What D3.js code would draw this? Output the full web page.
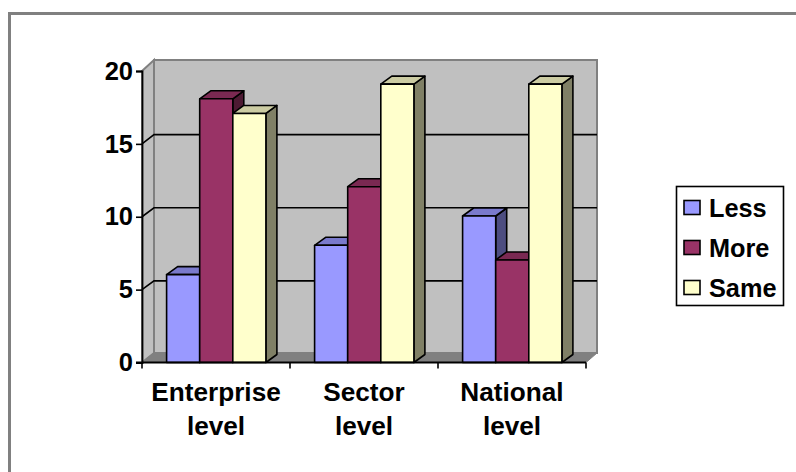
<!DOCTYPE html>
<html><head><meta charset="utf-8">
<script src="https://cdn.jsdelivr.net/npm/d3@7/dist/d3.min.js"></script>
<style>html,body{margin:0;padding:0;background:#fff}svg{display:block}text{font-family:"Liberation Sans",Arial,sans-serif;font-weight:bold;fill:#000}</style>
</head><body><svg id="c" width="796" height="472"></svg>
<script>
const categories=[["Enterprise","level"],["Sector","level"],["National","level"]];
const seriesNames=["Less","More","Same"];
const less=[6,8,10];
const more=[18,12,7];
const same=[17,19,19];
const yTicks=[0,5,10,15,20];
const colors=["#9999ff","#993366","#ffffcc"];
const tops=["#7a7acc","#7a2952","#cccca3"];
const sides=["#4d4d80","#4d1a33","#808066"];

const svg=d3.select("#c");
svg.append("path").attr("d","M9.5 472V13.5H796").attr("fill","none").attr("stroke","#808080").attr("stroke-width",3);
const dx=11,dy=8;
const wallDx=12;
const x0=142,x1=586;
const y=d3.scaleLinear().domain([0,20]).range([362.5,69.5]);
const axisY=d3.scaleLinear().domain([0,20]).range([362.5,71]);
const wallY=d3.scaleLinear().domain([0,20]).range([353,60]);
const gridY=d3.scaleLinear().domain([0,20]).range([354,61.5]);
const x=d3.scaleBand().domain(d3.range(3)).range([x0,x1]);
const bw=33.1;
const bx=d3.scaleBand().domain(d3.range(3)).range([24.6,24.6+3*bw]);
const base=y(0);
// walls
svg.append("path").attr("d",`M${x0} ${axisY(20)}L${x0+wallDx} ${wallY(20)}V${wallY(0)}L${x0} ${base}Z`).attr("fill","#c0c0c0").attr("stroke","#808080").attr("stroke-width",2);
svg.append("rect").attr("x",x0+wallDx).attr("y",wallY(20)).attr("width",x1-x0-1).attr("height",wallY(0)-wallY(20)).attr("fill","#c0c0c0").attr("stroke","#808080").attr("stroke-width",2);
svg.append("path").attr("d",`M${x0} ${base}L${x0+wallDx} ${wallY(0)}H${x1+wallDx-1}L${x1} ${base}Z`).attr("fill","#808080").attr("stroke","#808080");
// gridlines
yTicks.slice(1,4).forEach(t=>{
  svg.append("path").attr("d",`M${x0} ${axisY(t)}L${x0+wallDx} ${gridY(t)}H${x1+wallDx-1}`).attr("fill","none").attr("stroke","#000").attr("stroke-width",1.6);
});
// bars
const all=[less,more,same];
categories.forEach((c,i)=>{
  all.forEach((s,k)=>{
    const l=x(i)+bx(k),w=bw,h=y(s[i]);
    const g=svg.append("g").attr("stroke","#000").attr("stroke-width",1.6).attr("stroke-linejoin","round");
    g.append("path").attr("d",`M${l+w} ${h}l${dx} ${-dy}V${base-dy}L${l+w} ${base}Z`).attr("fill",sides[k]);
    g.append("path").attr("d",`M${l} ${h}l${dx} ${-dy}H${l+w+dx}L${l+w} ${h}Z`).attr("fill",tops[k]);
    g.append("rect").attr("x",l).attr("y",h).attr("width",w).attr("height",base-h).attr("fill",colors[k]);
  });
});
// axes
const yAxis=d3.axisLeft(axisY).tickValues(yTicks).tickSize(6).tickPadding(3);
const ga=svg.append("g").attr("transform",`translate(${x0},0)`).call(yAxis);
ga.select(".domain").attr("stroke","#000").attr("stroke-width",1.8);
ga.selectAll(".tick line").attr("stroke","#000").attr("stroke-width",1.6);
ga.selectAll("text").style("font-size","25.5px").style("font-family",'"Liberation Sans",Arial,sans-serif').style("font-weight","bold").attr("fill","#000");
svg.append("line").attr("x1",x0-6).attr("x2",x1).attr("y1",base).attr("y2",base).attr("stroke","#000").attr("stroke-width",2);
d3.range(4).forEach(i=>{
  const p=i<3?x(i):x1;
  svg.append("line").attr("x1",p).attr("x2",p).attr("y1",base).attr("y2",base+6).attr("stroke","#000").attr("stroke-width",1.6);
});
categories.forEach((c,i)=>{
  c.forEach((t,j)=>{
    svg.append("text").attr("x",x(i)+x.bandwidth()/2).attr("y",401+j*34).attr("text-anchor","middle").style("font-size","26.2px").text(t);
  });
});
// legend
svg.append("rect").attr("x",676.5).attr("y",186.5).attr("width",107).attr("height",119).attr("fill","#fff").attr("stroke","#000").attr("stroke-width",1.6);
seriesNames.forEach((n,k)=>{
  const cy=207.5+k*40;
  svg.append("rect").attr("x",684).attr("y",cy-7).attr("width",16).attr("height",14).attr("fill",colors[k]).attr("stroke","#000").attr("stroke-width",1.6);
  svg.append("text").attr("x",709).attr("y",cy+9).style("font-size","25.3px").text(n);
});
</script></body></html>
